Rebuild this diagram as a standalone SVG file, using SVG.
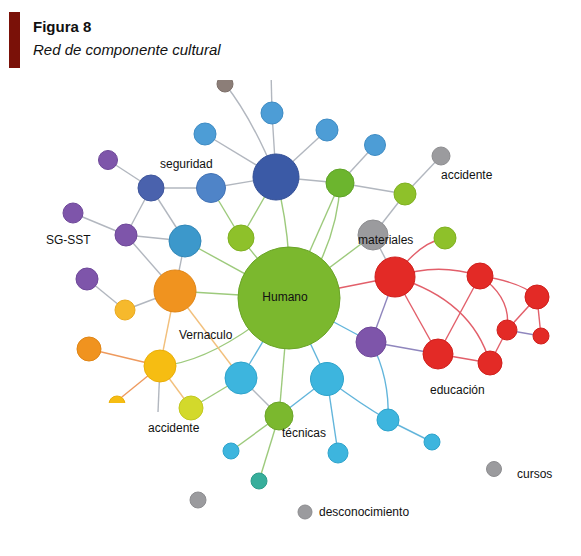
<svg xmlns="http://www.w3.org/2000/svg" width="581" height="556" viewBox="0 0 581 556">
<style>
text{font-family:"Liberation Sans",Arial,sans-serif;fill:#111}
.lbl{font-size:12px}
.e{fill:none;stroke-width:1.4}
.eg{stroke:#b2b7bf}
.egr{stroke:#9dca7c}
.eb{stroke:#62b5db}
.eo{stroke:#f2c07c}
.eo2{stroke:#ee9a5e}
.er{stroke:#e25f6a}
.ep{stroke:#8f86bd}
circle{stroke-width:1}
.green{fill:#7bb82e;stroke:#6aa427}
.dblue{fill:#3b5aa6;stroke:#324f96}
.lblue{fill:#4d9dd6;stroke:#3f8cc4}
.mblue{fill:#4f84c8;stroke:#4373b5}
.sblue{fill:#4a62ad;stroke:#3f569c}
.purple{fill:#7e55aa;stroke:#6e4899}
.tblue{fill:#3c98cb;stroke:#3187b8}
.orange{fill:#f0931f;stroke:#e08515}
.yorange{fill:#f6b92c;stroke:#eaa91d}
.yellow{fill:#f6bd12;stroke:#eaae08}
.ylime{fill:#d3d92b;stroke:#c2c81f}
.cyan{fill:#3db5de;stroke:#2ea3cb}
.teal{fill:#37ae9b;stroke:#2c9d8a}
.gray{fill:#9b9b9e;stroke:#8d8d90}
.brown{fill:#8c7e78;stroke:#7d6f69}
.red{fill:#e32a26;stroke:#d01f1c}
.lime{fill:#8ec12a;stroke:#7fb020}
.green2{fill:#6cb52e;stroke:#5ea326}
</style>
<defs>
<clipPath id="clipTop"><rect x="0" y="80" width="581" height="476"/></clipPath>
<clipPath id="clipY"><rect x="100" y="390" width="40" height="13"/></clipPath>
</defs>
<rect width="581" height="556" fill="#fff"/>
<g id="title">
<rect x="9" y="12" width="11" height="56" fill="#7a1108"/>
<text x="33" y="32" font-size="15" font-weight="bold">Figura 8</text>
<text x="33" y="55" font-size="15" font-style="italic">Red de componente cultural</text>
</g>
<g id="connectors">
<g class="e eg" clip-path="url(#clipTop)">
<path d="M225,84 Q252,118 276,177"/>
<path d="M272,113 L271,70"/>
</g>
<g class="e eg">
<path d="M272,113 L276,177"/>
<path d="M205,134 L276,177"/>
<path d="M327,130 L276,177"/>
<path d="M375,145 L340,183"/>
<path d="M211,188 L276,177"/>
<path d="M276,177 L340,183"/>
<path d="M340,183 L405,194"/>
<path d="M405,194 L441,156"/>
<path d="M405,194 L373,235"/>
<path d="M373,235 L395,277"/>
<path d="M151,188 L211,188"/>
<path d="M151,188 L108,160"/>
<path d="M151,188 L126,235"/>
<path d="M151,188 L185,241"/>
<path d="M126,235 L73,213"/>
<path d="M126,235 L185,241"/>
<path d="M126,235 L175,291"/>
<path d="M185,241 L175,291"/>
<path d="M175,291 L125,310"/>
<path d="M125,310 L87,279"/>
<path d="M160,366 L158,412"/>
<path d="M241,378 L279,416"/>
</g>
<g class="e egr">
<path d="M276,177 L241,238"/>
<path d="M211,188 L241,238"/>
<path d="M241,238 L289,298"/>
<path d="M276,177 Q292,240 289,298"/>
<path d="M340,183 L289,298"/>
<path d="M340,183 Q338,240 300,298"/>
<path d="M373,235 L289,298"/>
<path d="M185,241 L289,298"/>
<path d="M175,291 L289,298"/>
<path d="M289,298 Q215,362 160,366"/>
<path d="M289,298 L279,416"/>
<path d="M279,416 L231,451"/>
<path d="M279,416 L259,481"/>
<path d="M241,378 L191,408"/>
</g>
<g class="e eb">
<path d="M289,298 L241,378"/>
<path d="M289,298 L327,379"/>
<path d="M289,298 L371,342"/>
<path d="M327,379 L279,416"/>
<path d="M327,379 L338,453"/>
<path d="M327,379 Q362,405 388,420"/>
<path d="M371,342 Q390,378 388,420"/>
<path d="M388,420 L432,442"/>
</g>
<g class="e eo">
<path d="M175,291 L241,378"/>
<path d="M175,291 L160,366"/>
<path d="M160,366 L191,408"/>
</g>
<g class="e eo2">
<path d="M160,366 L89,349"/>
<path d="M160,366 L117,401"/>
</g>
<g class="e er">
<path d="M289,298 L395,277"/>
<path d="M395,277 Q418,243 445,238"/>
<path d="M395,277 Q437,262 480,276"/>
<path d="M395,277 L438,354"/>
<path d="M395,277 Q472,300 490,363"/>
<path d="M480,276 L438,354"/>
<path d="M480,276 Q522,282 537,297"/>
<path d="M480,276 Q512,298 507,330"/>
<path d="M537,297 L507,330"/>
<path d="M537,297 L541,336"/>
<path d="M507,330 L490,363"/>
<path d="M438,354 L490,363"/>
</g>
<g class="e ep">
<path d="M507,330 L541,336"/>
<path d="M395,277 L371,342"/>
<path d="M371,342 L438,354"/>
</g>
</g>
<g id="n-brown" clip-path="url(#clipTop)"><circle class="brown" cx="225" cy="84" r="8"/></g>
<g id="n-lb1"><circle class="lblue" cx="272" cy="113" r="11"/></g>
<g id="n-lb2"><circle class="lblue" cx="205" cy="134" r="11"/></g>
<g id="n-lb3"><circle class="lblue" cx="327" cy="130" r="11"/></g>
<g id="n-lb4"><circle class="lblue" cx="375" cy="145" r="10.5"/></g>
<g id="n-dblue"><circle class="dblue" cx="276" cy="177" r="23"/></g>
<g id="n-accidente1"><circle class="gray" cx="441" cy="156" r="9"/><text class="lbl" x="441" y="179">accidente</text></g>
<g id="n-green1"><circle class="green2" cx="340" cy="183" r="14"/></g>
<g id="n-lime1"><circle class="lime" cx="405" cy="194" r="11"/></g>
<g id="n-lime2"><circle class="lime" cx="445" cy="238" r="11"/></g>
<g id="n-lime3"><circle class="lime" cx="241" cy="238" r="13"/></g>
<g id="n-mblue"><circle class="mblue" cx="211" cy="188" r="14.5"/></g>
<g id="n-seguridad"><circle class="sblue" cx="151" cy="188" r="13"/><text class="lbl" x="160" y="168">seguridad</text></g>
<g id="n-p1"><circle class="purple" cx="108" cy="160" r="9.5"/></g>
<g id="n-p2"><circle class="purple" cx="73" cy="213" r="10"/></g>
<g id="n-sgsst"><circle class="purple" cx="126" cy="235" r="11"/><text class="lbl" x="46" y="244">SG-SST</text></g>
<g id="n-tblue"><circle class="tblue" cx="185" cy="241" r="16"/></g>
<g id="n-p3"><circle class="purple" cx="87" cy="279" r="11"/></g>
<g id="n-orange"><circle class="orange" cx="175" cy="291" r="21"/></g>
<g id="n-yorange"><circle class="yorange" cx="125" cy="310" r="10"/></g>
<g id="n-orange2"><circle class="orange" cx="89" cy="349" r="12"/></g>
<g id="n-yellow-part" clip-path="url(#clipY)"><circle class="yellow" cx="117" cy="404" r="8"/></g>
<g id="n-yellow"><circle class="yellow" cx="160" cy="366" r="16"/></g>
<g id="n-accidente2"><circle class="ylime" cx="191" cy="408" r="12"/><text class="lbl" x="148" y="432">accidente</text></g>
<g id="n-cyan1"><circle class="cyan" cx="241" cy="378" r="16"/></g>
<g id="n-humano"><circle class="green" cx="289" cy="298" r="51"/><text class="lbl" x="285" y="301" text-anchor="middle">Humano</text></g>
<g id="n-vernaculo"><text class="lbl" x="179" y="339">Vernaculo</text></g>
<g id="n-materiales"><circle class="gray" cx="373" cy="235" r="15"/><text class="lbl" x="358" y="244">materiales</text></g>
<g id="n-cyan2"><circle class="cyan" cx="327" cy="379" r="16.5"/></g>
<g id="n-tecnicas"><circle class="green" cx="279" cy="416" r="14"/><text class="lbl" x="282" y="437">técnicas</text></g>
<g id="n-cyan3"><circle class="cyan" cx="231" cy="451" r="8"/></g>
<g id="n-teal"><circle class="teal" cx="259" cy="481" r="8"/></g>
<g id="n-cyan4"><circle class="cyan" cx="338" cy="453" r="10"/></g>
<g id="n-purple4"><circle class="purple" cx="371" cy="342" r="15"/></g>
<g id="n-cyan5"><circle class="cyan" cx="388" cy="420" r="11"/></g>
<g id="n-cyan6"><circle class="cyan" cx="432" cy="442" r="8"/></g>
<g id="n-red1"><circle class="red" cx="395" cy="277" r="20"/></g>
<g id="n-red2"><circle class="red" cx="480" cy="276" r="13"/></g>
<g id="n-red3"><circle class="red" cx="537" cy="297" r="12"/></g>
<g id="n-red4"><circle class="red" cx="507" cy="330" r="10"/></g>
<g id="n-red5"><circle class="red" cx="541" cy="336" r="8"/></g>
<g id="n-educacion"><circle class="red" cx="438" cy="354" r="15"/><text class="lbl" x="430" y="394">educación</text></g>
<g id="n-red7"><circle class="red" cx="490" cy="363" r="12"/></g>
<g id="n-cursos"><circle class="gray" cx="494" cy="469" r="7.5"/><text class="lbl" x="517" y="478">cursos</text></g>
<g id="n-gray2"><circle class="gray" cx="198" cy="500" r="8"/></g>
<g id="n-desconocimiento"><circle class="gray" cx="305" cy="512" r="7"/><text class="lbl" x="319" y="516">desconocimiento</text></g>
</svg>
